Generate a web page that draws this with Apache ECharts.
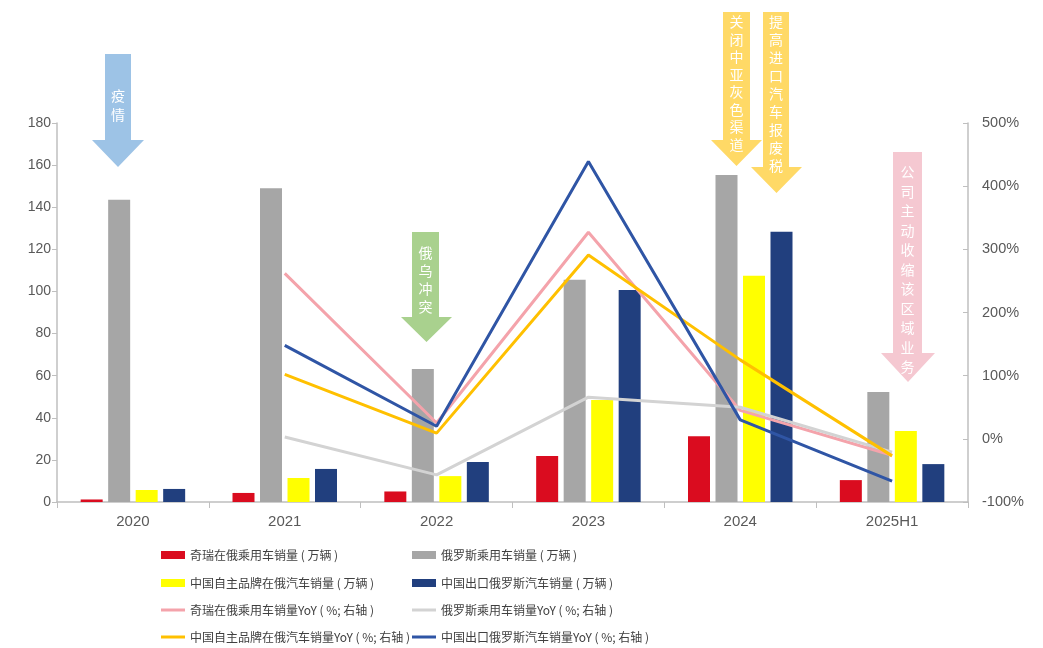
<!DOCTYPE html>
<html>
<head>
<meta charset="utf-8">
<script src="https://cdn.jsdelivr.net/npm/echarts@6/dist/echarts.min.js"></script>
<style>
html,body{margin:0;padding:0;background:#fff;}
#main{width:1043px;height:648px;}
</style>
</head>
<body>
<div id="main"></div>
<script>
// ---- data ----
var categories = ['2020', '2021', '2022', '2023', '2024', '2025H1'];
var cheryRussia = [1.2, 4.3, 5.0, 21.8, 31.2, 10.4];
var russiaPassenger = [143.5, 149, 63.2, 105.5, 155.3, 52.3];
var chinaBrandsRussia = [5.7, 11.4, 12.3, 48.5, 107.4, 33.7];
var chinaExportRussia = [6.2, 15.7, 19.0, 100.7, 128.3, 18.0];
var cheryYoY = [null, 262, 25, 327, 45, -26];
var russiaPassengerYoY = [null, 3, -57, 66, 50, -21];
var chinaBrandsYoY = [null, 102, 9, 291, 125, -27];
var chinaExportYoY = [null, 148, 20, 439, 30, -67];
var leftTicks = {min: 0, max: 180, interval: 20};
var rightTicks = {min: -100, max: 500, interval: 100};

var names = {
  b1: '奇瑞在俄乘用车销量 ( 万辆 )',
  b2: '俄罗斯乘用车销量 ( 万辆 )',
  b3: '中国自主品牌在俄汽车销量 ( 万辆 )',
  b4: '中国出口俄罗斯汽车销量 ( 万辆 )',
  l1: '奇瑞在俄乘用车销量YoY ( %; 右轴 )',
  l2: '俄罗斯乘用车销量YoY ( %; 右轴 )',
  l3: '中国自主品牌在俄汽车销量YoY ( %; 右轴 )',
  l4: '中国出口俄罗斯汽车销量YoY ( %; 右轴 )'
};

// annotation arrows (layout)
var arrows = [
  {text: '疫情', xl: 105, xr: 131, yt: 54, yh: 140, hl: 92, hr: 144, tip: 167, color: '#9DC3E6', ty: 86, gap: 19},
  {text: '俄乌冲突', xl: 412, xr: 439, yt: 232, yh: 317, hl: 401, hr: 452, tip: 342, color: '#A9D18E', ty: 244, gap: 18},
  {text: '关闭中亚灰色渠道', xl: 723, xr: 750, yt: 12, yh: 140, hl: 711, hr: 762, tip: 166, color: '#FFD966', ty: 13, gap: 17.5},
  {text: '提高进口汽车报废税', xl: 763, xr: 789, yt: 12, yh: 167, hl: 751, hr: 802, tip: 193, color: '#FFD966', ty: 13, gap: 18},
  {text: '公司主动收缩该区域业务', xl: 893, xr: 922, yt: 152, yh: 353, hl: 881, hr: 935, tip: 382, color: '#F5C8D1', ty: 162, gap: 19.5}
];

var graphics = [];
arrows.forEach(function (a) {
  var cx = (a.hl + a.hr) / 2;
  graphics.push({
    type: 'polygon', z: 100,
    shape: {points: [[a.xl, a.yt], [a.xr, a.yt], [a.xr, a.yh], [a.hr, a.yh], [cx, a.tip], [a.hl, a.yh], [a.xl, a.yh]]},
    style: {fill: a.color}
  });
  graphics.push({
    type: 'text', z: 101,
    x: (a.xl + a.xr) / 2, y: a.ty,
    style: {
      text: a.text.split('').join('\n'),
      fill: '#ffffff', font: '14px "Noto Sans CJK SC"',
      lineHeight: a.gap, align: 'center', verticalAlign: 'top'
    }
  });
});

var chart = echarts.init(document.getElementById('main'));
var font = '"Liberation Sans", Arial, "Noto Sans CJK SC", sans-serif';
var legendFont = '"Noto Sans CJK SC", sans-serif';

function bar(name, data, color) {
  return {name: name, type: 'bar', yAxisIndex: 0, data: data, barWidth: 22, barGap: '25%',
    itemStyle: {color: color}, z: 2};
}
function line(name, data, color) {
  return {name: name, type: 'line', yAxisIndex: 1, data: data, symbol: 'none',
    lineStyle: {color: color, width: 3}, itemStyle: {color: color}, z: 3};
}

// legend layout: [name, column, row, isLine]
var legendItems = [
  [names.b1, 0, 0, false], [names.b2, 1, 0, false],
  [names.b3, 0, 1, false], [names.b4, 1, 1, false],
  [names.l1, 0, 2, true], [names.l2, 1, 2, true],
  [names.l3, 0, 3, true], [names.l4, 1, 3, true]
];
var colLeft = [161, 412];
var rowCenter = [555, 583, 610, 637];
var legends = legendItems.map(function (it) {
  return {
    left: colLeft[it[1]], top: rowCenter[it[2]] - 9, padding: 0,
    itemWidth: 24, itemHeight: it[3] ? 3 : 8,
    icon: 'rect',
    selectedMode: false,
    textStyle: {fontFamily: legendFont, fontSize: 12, color: '#404040', lineHeight: 18},
    data: [it[0]]
  };
});

chart.setOption({
  animation: false,
  backgroundColor: '#ffffff',
  textStyle: {fontFamily: font},
  grid: {left: 57, right: 75, top: 123, bottom: 146},
  legend: legends,
  xAxis: {
    type: 'category', data: categories,
    axisLine: {lineStyle: {color: '#BFBFBF', width: 1.5}},
    axisTick: {show: true, length: 6, lineStyle: {color: '#BFBFBF'}},
    axisLabel: {color: '#595959', fontSize: 15, margin: 12, fontFamily: font}
  },
  yAxis: [
    {
      type: 'value', min: leftTicks.min, max: leftTicks.max, interval: leftTicks.interval,
      position: 'left',
      axisLine: {show: true, lineStyle: {color: '#BFBFBF', width: 1.5}},
      axisTick: {show: true, length: 5, lineStyle: {color: '#BFBFBF'}},
      splitLine: {show: false},
      axisLabel: {color: '#595959', fontSize: 14, margin: 6, fontFamily: font}
    },
    {
      type: 'value', min: rightTicks.min, max: rightTicks.max, interval: rightTicks.interval,
      position: 'right',
      axisLine: {show: true, lineStyle: {color: '#BFBFBF', width: 1.5}},
      axisTick: {show: true, inside: true, length: 5, lineStyle: {color: '#BFBFBF'}},
      splitLine: {show: false},
      axisLabel: {color: '#595959', fontSize: 14.5, margin: 14, formatter: '{value}%', fontFamily: font}
    }
  ],
  series: [
    bar(names.b1, cheryRussia, '#DA0C1F'),
    bar(names.b2, russiaPassenger, '#A6A6A6'),
    bar(names.b3, chinaBrandsRussia, '#FFFF00'),
    bar(names.b4, chinaExportRussia, '#213F7E'),
    line(names.l1, cheryYoY, '#F4A3AB'),
    line(names.l2, russiaPassengerYoY, '#D3D3D3'),
    line(names.l3, chinaBrandsYoY, '#FFC000'),
    line(names.l4, chinaExportYoY, '#2F55A5')
  ],
  graphic: graphics
});
</script>
</body>
</html>
